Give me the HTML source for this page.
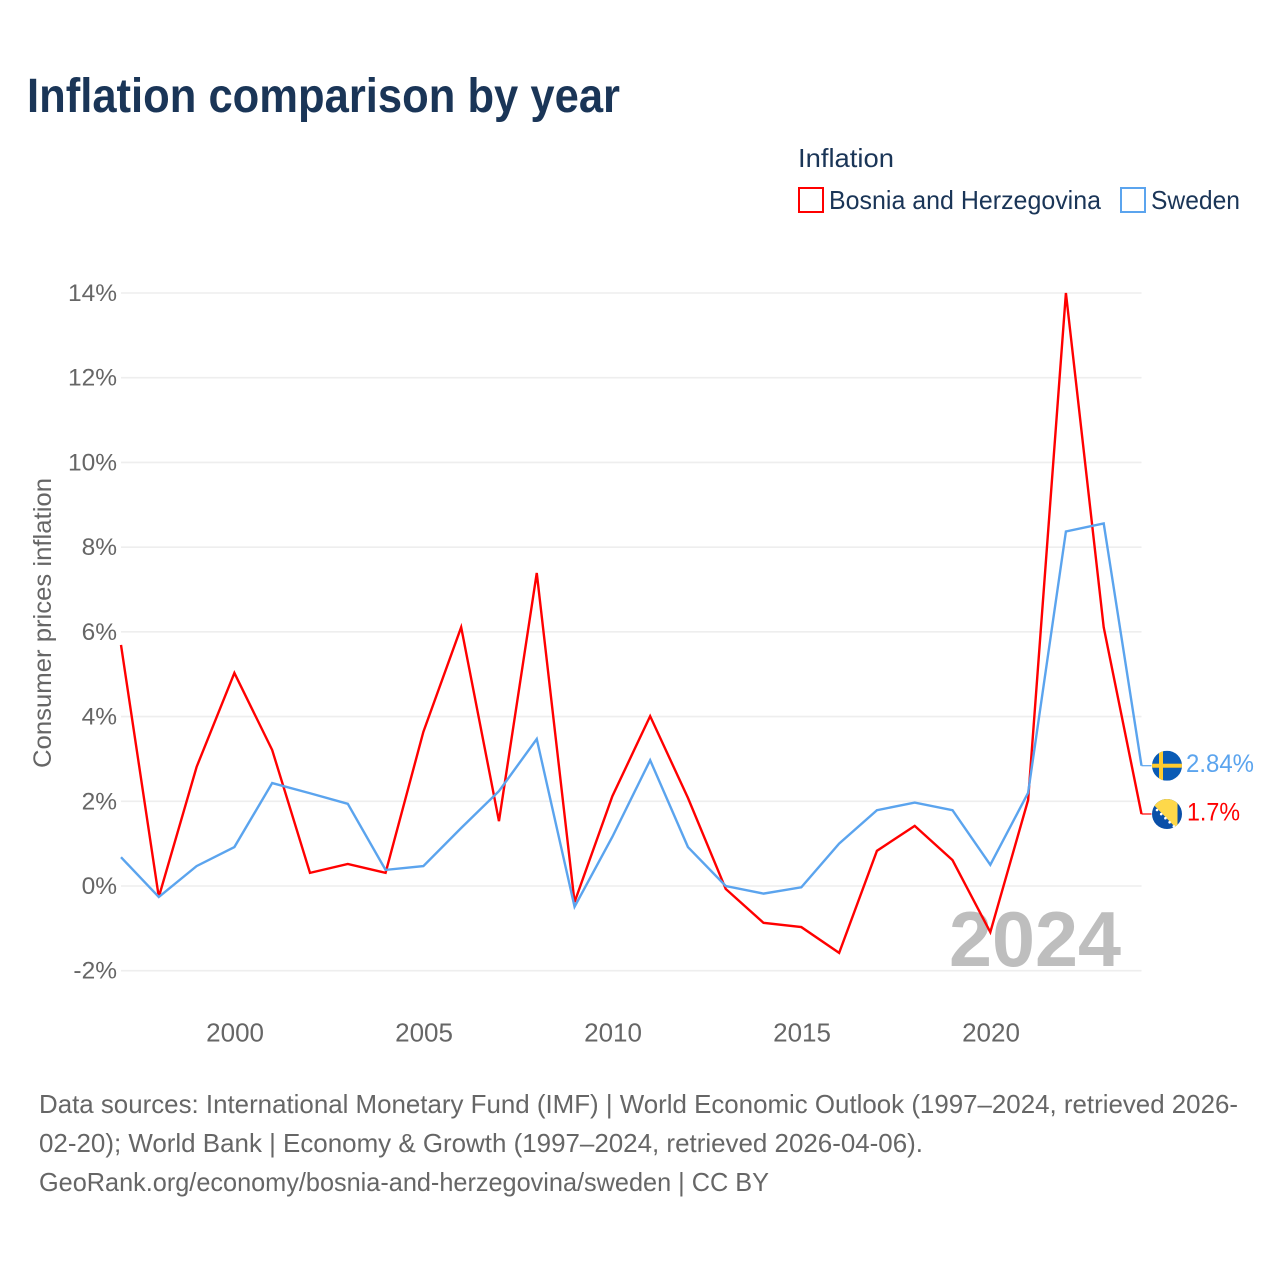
<!DOCTYPE html>
<html lang="en">
<head>
<meta charset="utf-8">
<title>Inflation comparison by year</title>
<style>
html,body{margin:0;padding:0;background:#fff;}
svg{display:block;font-family:"Liberation Sans",sans-serif;}
</style>
</head>
<body>
<svg id="chart" xmlns="http://www.w3.org/2000/svg" width="1280" height="1280" viewBox="0 0 1280 1280">
<rect width="1280" height="1280" fill="#ffffff"/>
<text x="27" y="112" font-size="48" font-weight="700" fill="#1a3557" textLength="593" lengthAdjust="spacingAndGlyphs">Inflation comparison by year</text>
<g>
<text x="798" y="167" font-size="26" fill="#1a3557" textLength="96" lengthAdjust="spacingAndGlyphs">Inflation</text>
<rect x="799" y="188" width="24" height="24" fill="#fff" stroke="#ff0000" stroke-width="2"/>
<text x="829" y="209" font-size="26" fill="#1a3557" textLength="272" lengthAdjust="spacingAndGlyphs">Bosnia and Herzegovina</text>
<rect x="1121" y="188" width="24" height="24" fill="#fff" stroke="#5ba4ee" stroke-width="2"/>
<text x="1151" y="209" font-size="26" fill="#1a3557" textLength="89" lengthAdjust="spacingAndGlyphs">Sweden</text>
</g>
<text transform="translate(51,768) rotate(-90)" x="0" y="0" font-size="25" fill="#666666" textLength="290" lengthAdjust="spacingAndGlyphs">Consumer prices inflation</text>
<g id="grid"></g>
<g id="yticks"></g>
<g id="xticks"></g>
<text x="949" y="966" font-size="78" font-weight="700" fill="#bebebe" textLength="172" lengthAdjust="spacingAndGlyphs">2024</text>
<g id="series"></g>
<g id="ends"></g>
<g font-size="26" fill="#666666">
<text x="39" y="1113" textLength="1199" lengthAdjust="spacingAndGlyphs">Data sources: International Monetary Fund (IMF) | World Economic Outlook (1997–2024, retrieved 2026-</text>
<text x="39" y="1152" textLength="884" lengthAdjust="spacingAndGlyphs">02-20); World Bank | Economy &amp; Growth (1997–2024, retrieved 2026-04-06).</text>
<text x="39" y="1191" textLength="730" lengthAdjust="spacingAndGlyphs">GeoRank.org/economy/bosnia-and-herzegovina/sweden | CC BY</text>
</g>
</svg>
<script>
const years = [1997,1998,1999,2000,2001,2002,2003,2004,2005,2006,2007,2008,2009,2010,2011,2012,2013,2014,2015,2016,2017,2018,2019,2020,2021,2022,2023,2024];
const bosnia = [5.69,-0.26,2.81,5.03,3.21,0.31,0.52,0.31,3.64,6.11,1.53,7.39,-0.38,2.12,4.01,2.08,-0.07,-0.87,-0.97,-1.58,0.83,1.42,0.61,-1.09,2.03,14.0,6.11,1.7];
const sweden = [0.68,-0.26,0.47,0.92,2.43,2.19,1.94,0.38,0.47,1.37,2.24,3.47,-0.49,1.16,2.97,0.92,0.0,-0.18,-0.03,1.0,1.79,1.97,1.79,0.5,2.2,8.37,8.56,2.84];
const yTickValues = [-2,0,2,4,6,8,10,12,14];
const xTickValues = [2000,2005,2010,2015,2020];

const NS = 'http://www.w3.org/2000/svg';
const xScale = y => 121 + (y - 1997) * (1141.5 - 121) / 27;
const yScale = v => 886 - v * (886 - 293) / 14;
function make(tag, attrs, parent, text) {
  const el = document.createElementNS(NS, tag);
  for (const k in attrs) el.setAttribute(k, attrs[k]);
  if (text !== undefined) el.textContent = text;
  parent.appendChild(el);
  return el;
}
const grid = document.getElementById('grid');
const yticks = document.getElementById('yticks');
const xticks = document.getElementById('xticks');
const seriesG = document.getElementById('series');
const ends = document.getElementById('ends');

yTickValues.forEach(v => {
  const line = make('line', {x1: 121, x2: 1141.5, y1: yScale(v), y2: yScale(v), stroke: '#eeeeee', 'stroke-width': 1.6}, grid);
  
  
  const t = make('text', {x: 117, y: yScale(v) + 8, 'text-anchor': 'end', 'font-size': 24.5, fill: '#666666'}, yticks, v + '%');
  
  
});
xTickValues.forEach(y => {
  const t = make('text', {x: xScale(y) + 0.7, y: 1041.5, 'text-anchor': 'middle', 'font-size': 26, fill: '#666666'}, xticks, String(y));
  
  
});

function endY(values) { return yScale(values[values.length - 1]); }
function linePath(values) {
  const pts = values.map((v, i) => xScale(years[i]).toFixed(2) + ',' + yScale(v).toFixed(2));
  return 'M' + pts.join('L');
}
const lastX = xScale(years[years.length - 1]);
function leader(values, color, name) {
  const l = make('line', {x1: lastX, x2: lastX + 10, y1: endY(values), y2: endY(values), stroke: color, 'stroke-width': 1.2}, seriesG);
  
  
}
const bosniaLine = make('path', {d: linePath(bosnia), fill: 'none', stroke: '#ff0000', 'stroke-width': 2.4, 'stroke-linejoin': 'miter'}, seriesG);


const swedenLine = make('path', {d: linePath(sweden), fill: 'none', stroke: '#5ba4ee', 'stroke-width': 2.4, 'stroke-linejoin': 'miter'}, seriesG);


leader(bosnia, '#ff0000', 'leader-bosnia');
leader(sweden, '#5ba4ee', 'leader-sweden');

const cx = 1167, r = 15;
const defs = make('defs', {}, ends);
const clipS = make('clipPath', {id: 'clip-se'}, defs);
make('circle', {cx: cx, cy: endY(sweden), r: r}, clipS);
const clipB = make('clipPath', {id: 'clip-ba'}, defs);
make('circle', {cx: cx, cy: endY(bosnia), r: r}, clipB);

const sy = endY(sweden);
const flagS = make('g', {'clip-path': 'url(#clip-se)'}, ends);


make('rect', {x: cx - r, y: sy - r, width: 2 * r, height: 2 * r, fill: '#0a5bb5'}, flagS);
make('rect', {x: cx - r, y: sy - 2, width: 2 * r, height: 4, fill: '#fecb2e'}, flagS);
make('rect', {x: cx - 8, y: sy - r, width: 4, height: 2 * r, fill: '#fecb2e'}, flagS);

const by = endY(bosnia);
const flagB = make('g', {'clip-path': 'url(#clip-ba)'}, ends);


make('rect', {x: cx - r, y: by - r, width: 2 * r, height: 2 * r, fill: '#0a4fa8'}, flagB);
make('polygon', {points: [[cx - 19, by - 15], [cx + 10.5, by - 15], [cx + 10.5, by + 15], [cx + 10, by + 15]].map(p => p.join(',')).join(' '), fill: '#fed84a'}, flagB);
[0, 1, 2, 3, 4].forEach(i => {
  make('circle', {cx: cx - 10 + i * 4.2, cy: by - 4 + i * 4.1, r: 1.3, fill: '#ffffff'}, flagB);
});

const labelS = make('text', {x: 1186, y: sy + 6.5, 'font-size': 25, fill: '#5ba4ee', textLength: 68, lengthAdjust: 'spacingAndGlyphs'}, ends, sweden[sweden.length - 1] + '%');


const labelB = make('text', {x: 1187, y: by + 6.5, 'font-size': 25, fill: '#ff0000', textLength: 53, lengthAdjust: 'spacingAndGlyphs'}, ends, bosnia[bosnia.length - 1] + '%');


</script>
</body>
</html>
